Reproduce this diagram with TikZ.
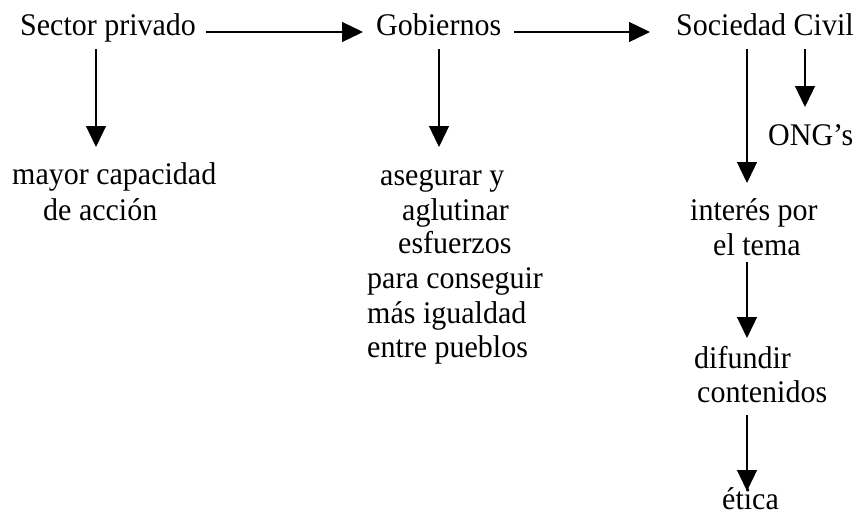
\documentclass[tikz,border=0pt]{standalone}
\usepackage{fontspec}
\usepackage{graphicx}
\setmainfont{Liberation Serif}
\usetikzlibrary{arrows.meta}
\newcommand\vstr[1]{\scalebox{1}[1.05]{#1}}
\begin{document}
\begin{tikzpicture}[x=1pt,y=1pt,
  txt/.style={anchor=base west,inner sep=0pt,font=\fontsize{30}{34}\selectfont},
  arr/.style={line width=1.3pt,-{Triangle[length=21pt,width=20pt]}}]
\useasboundingbox (0,0) rectangle (860,-515);
% top row
\node[txt] (sp)  at (20,-35)  {\vstr{Sector privado}};
\node[txt] (gob) at (376,-35) {\vstr{Gobiernos}};
\node[txt] (sc)  at (676,-35) {\vstr{Sociedad Civil}};
\node[txt] (ong) at (768,-145) {\vstr{ONG’s}};
% left column
\node[txt] (mc1) at (12,-184) {\vstr{mayor capacidad}};
\node[txt] (mc2) at (43,-220) {\vstr{de acción}};
% middle column
\node[txt] (g1) at (380,-185) {\vstr{asegurar y}};
\node[txt] (g2) at (402,-220) {\vstr{aglutinar}};
\node[txt] (g3) at (398,-253) {\vstr{esfuerzos}};
\node[txt] (g4) at (367,-288) {\vstr{para conseguir}};
\node[txt] (g5) at (367,-323) {\vstr{más igualdad}};
\node[txt] (g6) at (367,-357) {\vstr{entre pueblos}};
% right column
\node[txt] (s1) at (690,-220) {\vstr{interés por}};
\node[txt] (s2) at (713,-255) {\vstr{el tema}};
\node[txt] (s3) at (694,-368) {\vstr{difundir}};
\node[txt] (s4) at (697,-402) {\vstr{contenidos}};
\node[txt] (s5) at (722,-509) {\vstr{ética}};
% horizontal arrows
\draw[arr] ([shift={(10,3)}]sp.base east) -- ([shift={(-13,3)}]gob.base west);
\draw[arr] ([shift={(13,3)}]gob.base east) -- ([shift={(-26,3)}]sc.base west);
% vertical arrows
\draw[arr] ([shift={(76,-14)}]sp.base west) -- ([shift={(84,37)}]mc1.base west);
\draw[arr] ([shift={(63,-14)}]gob.base west) -- ([shift={(59,38)}]g1.base west);
\draw[arr] ([shift={(71,-14)}]sc.base west) -- ([shift={(57,37)}]s1.base west);
\draw[arr] ([shift={(129,-14)}]sc.base west) -- ([shift={(37,38)}]ong.base west);
\draw[arr] ([shift={(34,-7)}]s2.base west) -- ([shift={(53,30)}]s3.base west);
\draw[arr] ([shift={(50,-13)}]s4.base west) -- ([shift={(25,18)}]s5.base west);
\end{tikzpicture}
\end{document}
